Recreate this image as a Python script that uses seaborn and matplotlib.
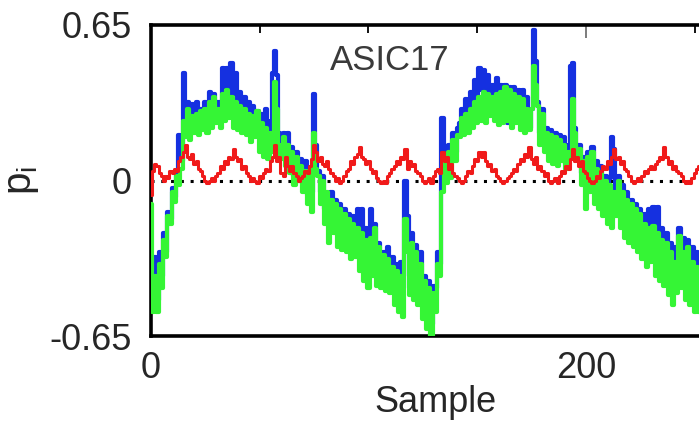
import numpy as np
import pandas as pd
import matplotlib
matplotlib.use("Agg")
import matplotlib.pyplot as plt
import seaborn as sns
from matplotlib.ticker import MultipleLocator

# ---------------- data ----------------
green = [
    -0.10, -0.55, -0.40, -0.55, -0.35, -0.45, -0.25, -0.32, -0.15, -0.18,
    -0.05, -0.09, 0.02, -0.02, 0.05, 0.25, 0.18, 0.30, 0.17, 0.27,
    0.20, 0.28, 0.19, 0.29, 0.21, 0.30, 0.20, 0.33, 0.22, 0.35,
    0.24, 0.30, 0.22, 0.36, 0.25, 0.38, 0.26, 0.35, 0.22, 0.33,
    0.21, 0.31, 0.20, 0.30, 0.19, 0.28, 0.16, 0.27, 0.18, 0.29,
    0.12, 0.24, 0.10, 0.22, 0.09, 0.20, 0.12, 0.41, 0.30, 0.15,
    0.09, 0.18, 0.06, 0.15, 0.03, 0.12, -0.02, 0.10, 0.00, 0.06,
    -0.05, 0.04, -0.10, 0.02, -0.13, 0.20, 0.05, 0.02, -0.10, 0.00,
    -0.18, -0.05, -0.26, -0.08, -0.22, -0.10, -0.28, -0.12, -0.29, -0.14,
    -0.30, -0.16, -0.33, -0.18, -0.32, -0.20, -0.38, -0.22, -0.42, -0.25,
    -0.45, -0.24, -0.40, -0.20, -0.44, -0.28, -0.45, -0.31, -0.46, -0.33,
    -0.47, -0.36, -0.52, -0.38, -0.55, -0.40, -0.57, -0.16, -0.30, -0.48,
    -0.26, -0.50, -0.30, -0.52, -0.35, -0.58, -0.42, -0.62, -0.45, -0.65,
    -0.47, -0.55, -0.35, -0.40, -0.05, 0.09, -0.01, 0.12, 0.01, 0.17,
    0.08, 0.19, 0.18, 0.26, 0.19, 0.28, 0.20, 0.30, 0.22, 0.33,
    0.24, 0.35, 0.25, 0.37, 0.24, 0.36, 0.27, 0.35, 0.25, 0.36,
    0.23, 0.37, 0.24, 0.39, 0.25, 0.38, 0.22, 0.36, 0.24, 0.35,
    0.21, 0.34, 0.20, 0.30, 0.21, 0.30, 0.48, 0.40, 0.31, 0.15,
    0.28, 0.12, 0.20, 0.08, 0.19, 0.07, 0.18, 0.06, 0.17, 0.08,
    0.15, 0.05, 0.12, 0.10, 0.34, 0.20, 0.10, 0.13, -0.02, 0.08,
    -0.12, 0.10, -0.05, 0.12, -0.10, 0.05, -0.12, 0.03, -0.15, 0.00,
    -0.18, -0.02, -0.20, -0.05, -0.15, 0.00, -0.20, -0.05, -0.24, -0.08,
    -0.26, -0.10, -0.28, -0.12, -0.30, -0.14, -0.33, -0.18, -0.36, -0.20,
    -0.34, -0.19, -0.40, -0.22, -0.42, -0.25, -0.44, -0.26, -0.48, -0.30,
    -0.52, -0.34, -0.47, -0.23, -0.45, -0.30, -0.50, -0.28, -0.52, -0.34,
    -0.55, -0.36, -0.55,
]

blue = [
    -0.33, -0.38, -0.32, -0.50, -0.30, -0.40, -0.22, -0.30, -0.13, -0.16,
    -0.03, -0.07, 0.04, 0.19, 0.08, 0.45, 0.30, 0.33, 0.22, 0.32,
    0.25, 0.33, 0.24, 0.30, 0.26, 0.33, 0.24, 0.37, 0.26, 0.36,
    0.27, 0.33, 0.25, 0.47, 0.39, 0.47, 0.30, 0.49, 0.36, 0.45,
    0.30, 0.37, 0.28, 0.35, 0.26, 0.33, 0.22, 0.31, 0.22, 0.29,
    0.20, 0.28, 0.18, 0.30, 0.15, 0.25, 0.45, 0.54, 0.44, 0.20,
    0.12, 0.20, 0.10, 0.20, 0.06, 0.14, 0.02, 0.12, 0.04, 0.09,
    -0.01, 0.08, -0.06, 0.05, -0.05, 0.36, 0.15, 0.04, -0.05, 0.02,
    -0.12, -0.10, -0.14, -0.05, -0.13, -0.08, -0.15, -0.10, -0.20, -0.12,
    -0.25, -0.14, -0.28, -0.15, -0.18, -0.12, -0.25, -0.12, -0.30, -0.20,
    -0.38, -0.12, -0.30, -0.18, -0.38, -0.26, -0.40, -0.30, -0.34, -0.28,
    -0.42, -0.32, -0.46, -0.35, -0.48, -0.34, -0.45, 0.00, -0.15, -0.40,
    -0.22, -0.42, -0.27, -0.45, -0.30, -0.50, -0.40, -0.55, -0.42, -0.60,
    -0.44, -0.45, -0.30, -0.35, 0.26, 0.10, 0.05, 0.15, 0.08, 0.20,
    0.12, 0.22, 0.24, 0.30, 0.27, 0.34, 0.26, 0.37, 0.30, 0.42,
    0.35, 0.47, 0.38, 0.46, 0.33, 0.44, 0.34, 0.40, 0.31, 0.43,
    0.30, 0.40, 0.28, 0.40, 0.24, 0.39, 0.30, 0.39, 0.32, 0.38,
    0.30, 0.38, 0.28, 0.35, 0.22, 0.30, 0.63, 0.50, 0.33, 0.20,
    0.30, 0.16, 0.22, 0.12, 0.21, 0.10, 0.20, 0.09, 0.19, 0.12,
    0.18, 0.07, 0.15, 0.48, 0.49, 0.22, 0.12, 0.15, 0.03, 0.10,
    0.02, 0.12, 0.00, 0.14, -0.03, 0.08, -0.05, 0.06, -0.08, 0.02,
    -0.10, 0.01, 0.18, 0.13, -0.05, 0.02, -0.12, -0.02, -0.18, -0.05,
    -0.20, -0.08, -0.24, -0.10, -0.15, -0.12, -0.26, -0.14, -0.30, -0.12,
    -0.25, -0.11, -0.30, -0.11, -0.35, -0.20, -0.38, -0.22, -0.42, -0.26,
    -0.45, -0.28, -0.40, -0.20, -0.38, -0.24, -0.42, -0.25, -0.45, -0.28,
    -0.48, -0.30, -0.48,
]

red = [
    -0.06, 0.04, 0.07, 0.06, 0.03, 0.02, 0.00, 0.02, 0.01, 0.04,
    0.03, 0.05, 0.04, 0.08, 0.10, 0.12, 0.15, 0.10, 0.09, 0.11,
    0.07, 0.08, 0.05, 0.04, 0.02, 0.00, -0.01, 0.00, 0.01, 0.00,
    0.02, 0.03, 0.06, 0.05, 0.08, 0.07, 0.10, 0.09, 0.13, 0.10,
    0.08, 0.09, 0.05, 0.06, 0.03, 0.02, 0.00, 0.01, 0.00, -0.01,
    0.02, 0.01, 0.03, 0.05, 0.04, 0.08, 0.10, 0.15, 0.08, 0.10,
    0.03, 0.02, 0.10, 0.06, 0.04, 0.06, 0.03, 0.02, 0.00, 0.01,
    0.02, 0.04, 0.03, 0.06, 0.09, 0.15, 0.12, 0.08, 0.10, 0.07,
    0.06, 0.08, 0.05, 0.03, 0.02, 0.00, 0.01, -0.01, 0.00, 0.02,
    0.04, 0.05, 0.08, 0.07, 0.10, 0.11, 0.14, 0.10, 0.09, 0.07,
    0.08, 0.05, 0.03, 0.04, 0.01, 0.00, -0.01, 0.00, -0.01, 0.02,
    0.03, 0.05, 0.06, 0.08, 0.07, 0.10, 0.09, 0.13, 0.05, 0.08,
    0.06, 0.07, 0.04, 0.03, 0.02, 0.00, -0.01, 0.00, 0.01, -0.01,
    0.02, 0.04, 0.05, 0.03, 0.12, 0.08, 0.10, 0.05, 0.07, 0.03,
    0.02, 0.01, 0.00, -0.01, 0.00, 0.02, 0.04, 0.03, 0.06, 0.09,
    0.08, 0.12, 0.10, 0.12, 0.08, 0.06, 0.07, 0.04, 0.05, 0.02,
    0.01, 0.00, -0.01, 0.00, 0.01, 0.02, 0.03, 0.05, 0.04, 0.07,
    0.09, 0.08, 0.11, 0.10, 0.14, 0.09, 0.07, 0.10, 0.05, 0.06,
    0.04, 0.02, 0.03, 0.00, -0.01, 0.00, 0.01, -0.01, 0.02, 0.04,
    0.03, 0.06, 0.05, 0.09, 0.13, 0.08, 0.10, 0.06, 0.08, 0.04,
    0.03, 0.01, 0.00, -0.01, 0.00, 0.02, 0.01, 0.04, 0.06, 0.05,
    0.08, 0.07, 0.10, 0.13, 0.09, 0.10, 0.07, 0.08, 0.05, 0.04,
    0.02, 0.00, -0.01, 0.00, 0.01, 0.00, 0.02, 0.04, 0.03, 0.05,
    0.06, 0.05, 0.07, 0.08, 0.10, 0.09, 0.14, 0.10, 0.07, 0.08,
    0.05, 0.06, 0.04, 0.03, 0.02, 0.00, -0.01, 0.00, -0.01, 0.01,
    0.03, 0.05, 0.06,
]

samples = list(range(len(green)))
title_text = "ASIC17"
x_label = "Sample"
y_label = r"p$_{\mathrm{i}}$"
y_ticks = [-0.65, 0, 0.65]
y_ticklabels = ["-0.65", "0", "0.65"]
x_ticks = [0, 200]
x_ticklabels = ["0", "200"]

# ---------------- plotting ----------------
sns.set_style("white")
plt.rcParams["font.family"] = ["Liberation Sans", "DejaVu Sans"]
plt.rcParams["mathtext.fontset"] = "custom"
plt.rcParams["mathtext.rm"] = "Liberation Sans"
plt.rcParams["mathtext.it"] = "Liberation Sans"

df_b = pd.DataFrame({"x": samples, "y": blue})
df_g = pd.DataFrame({"x": samples, "y": green})
df_r = pd.DataFrame({"x": samples, "y": red})

fig = plt.figure(figsize=(6.99, 4.22), dpi=100)
px_per_unit = 2.175
x_max = 262
ax = fig.add_axes([151 / 699, 86 / 422, x_max * px_per_unit / 699, 311 / 422])

ax.axhline(0, color="black", linestyle=(0, (1, 2.2)), linewidth=2.2, zorder=1)
sns.lineplot(data=df_b, x="x", y="y", ax=ax, color="#1530e0", linewidth=3.0,
             drawstyle="steps-mid", estimator=None, legend=False, zorder=2)
sns.lineplot(data=df_g, x="x", y="y", ax=ax, color="#35f535", linewidth=3.0,
             drawstyle="steps-mid", estimator=None, legend=False, zorder=3)
sns.lineplot(data=df_r, x="x", y="y", ax=ax, color="#f01a1a", linewidth=2.2,
             drawstyle="steps-mid", estimator=None, legend=False, zorder=4)

ax.set_xlim(0, x_max)
ax.set_ylim(-0.65, 0.65)

ax.set_xticks(x_ticks)
ax.set_xticklabels(x_ticklabels)
ax.set_yticks(y_ticks)
ax.set_yticklabels(y_ticklabels)
ax.xaxis.set_minor_locator(MultipleLocator(50))
ax.yaxis.set_minor_locator(MultipleLocator(0.13))

ax.tick_params(axis="both", which="major", direction="in", length=9, width=1.2,
               color="#666666", labelsize=26, pad=11, top=True, right=True)
ax.tick_params(axis="y", which="major", pad=14, length=0)
ax.tick_params(axis="both", which="minor", direction="in", length=6, width=1.3,
               color="black", top=True, right=True)

for sp in ax.spines.values():
    sp.set_linewidth(2.6)
    sp.set_color("black")

ax.set_xlabel(x_label, fontsize=26, labelpad=-1)
ax.set_ylabel(y_label, fontsize=29, labelpad=6)
ax.text(110, 0.50, title_text, fontsize=25, color="#3a3a3a", ha="center", va="center")

fig.savefig("out.png", dpi=100)
